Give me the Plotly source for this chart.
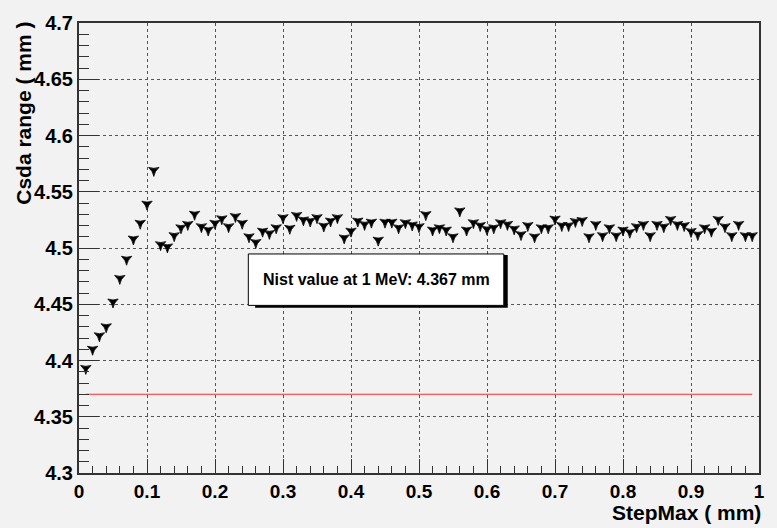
import plotly.graph_objects as go

step_max = [round(0.01 * i, 2) for i in range(1, 100)]
csda_range = [
    4.393, 4.410, 4.422, 4.430, 4.452, 4.473, 4.490, 4.508, 4.522, 4.539,
    4.569, 4.503, 4.501, 4.511, 4.518, 4.521, 4.530, 4.519, 4.516, 4.522,
    4.526, 4.519, 4.528, 4.522, 4.510, 4.505, 4.515, 4.513, 4.518, 4.527,
    4.5175, 4.529, 4.525, 4.524, 4.527, 4.5196, 4.524, 4.527, 4.509, 4.515,
    4.524, 4.521, 4.523, 4.507, 4.523, 4.523, 4.518, 4.5225, 4.5205, 4.519,
    4.5297, 4.516, 4.518, 4.516, 4.510, 4.533, 4.516, 4.5225, 4.520, 4.5167,
    4.518, 4.5225, 4.521, 4.517, 4.512, 4.520, 4.510, 4.518, 4.518, 4.5257,
    4.520, 4.520, 4.5236, 4.5245, 4.510, 4.521, 4.511, 4.518, 4.511, 4.516,
    4.514, 4.519, 4.521, 4.511, 4.521, 4.519, 4.5254, 4.521, 4.520, 4.5147,
    4.512, 4.518, 4.515, 4.5254, 4.519, 4.511, 4.521, 4.511, 4.511,
]
nist_line_x = [0.01, 0.99]
nist_line_y = [4.37, 4.37]
nist_label = "Nist value at 1 MeV: 4.367 mm"
x_ticks = [0, 0.1, 0.2, 0.3, 0.4, 0.5, 0.6, 0.7, 0.8, 0.9, 1]
x_tick_text = ["0", "0.1", "0.2", "0.3", "0.4", "0.5", "0.6", "0.7", "0.8", "0.9", "1"]
y_ticks = [4.3, 4.35, 4.4, 4.45, 4.5, 4.55, 4.6, 4.65, 4.7]
y_tick_text = ["4.3", "4.35", "4.4", "4.45", "4.5", "4.55", "4.6", "4.65", "4.7"]

BG = "#f2f2f2"
AX = "#333333"
FONT = "Liberation Sans, Arial, Helvetica, sans-serif"

fig = go.Figure()
fig.add_trace(go.Scatter(
    x=nist_line_x, y=nist_line_y, mode="lines",
    line=dict(color="#ff2a2a", width=1.2), showlegend=False, hoverinfo="skip"))
fig.add_trace(go.Scatter(
    x=step_max, y=csda_range, mode="markers",
    marker=dict(symbol="star-triangle-down", size=7.5, color="black",
                line=dict(color="black", width=0.8)),
    showlegend=False))

# text box with drop shadow
bx0, bx1, by0, by1 = 0.249, 0.6247, 4.449, 4.4947
sx, sy = 0.0058, 0.0022
fig.add_shape(type="rect", xref="x", yref="y", x0=bx0 + 0.01, x1=bx1 + sx,
              y0=by0 - sy, y1=by1 - 0.001, fillcolor="black", line=dict(width=0), layer="above")
fig.add_shape(type="rect", xref="x", yref="y", x0=bx0, x1=bx1, y0=by0, y1=by1,
              fillcolor="white", line=dict(color="black", width=1), layer="above")
fig.add_annotation(x=(bx0 + bx1) / 2, y=(by0 + by1) / 2, xref="x", yref="y",
                   text=nist_label, showarrow=False,
                   font=dict(family=FONT, size=16, color="black", weight="bold"))

# axis titles
fig.add_annotation(x=1.0, y=-0.084, xref="paper", yref="paper", xanchor="right",
                   yanchor="middle", xshift=4, yshift=-2, text="StepMax ( mm)", showarrow=False,
                   font=dict(family=FONT, size=21, color="black", weight="bold"))
fig.add_annotation(x=-0.079, y=1.0, xref="paper", yref="paper", xanchor="center",
                   yanchor="top", xshift=-2, yshift=3, text="Csda range ( mm )", textangle=-90,
                   showarrow=False,
                   font=dict(family=FONT, size=21, color="black", weight="bold"))

fig.update_xaxes(
    range=[0, 1], tickvals=x_ticks, ticktext=x_tick_text,
    ticks="inside", ticklen=14, tickcolor=AX, tickwidth=1,
    minor=dict(ticks="inside", ticklen=7, dtick=0.02, tickcolor=AX, showgrid=False),
    showgrid=True, gridcolor="#555555", griddash="dot", gridwidth=1,
    showline=True, linecolor=AX, linewidth=2, mirror=True, zeroline=False,
    tickfont=dict(family=FONT, size=19, color="black", weight="bold"))
fig.update_yaxes(
    range=[4.3, 4.7], tickvals=y_ticks, ticktext=y_tick_text,
    ticks="inside", ticklen=20, tickcolor=AX, tickwidth=1,
    minor=dict(ticks="inside", ticklen=10, dtick=0.01, tickcolor=AX, showgrid=False),
    showgrid=True, gridcolor="#555555", griddash="dot", gridwidth=1,
    showline=True, linecolor=AX, linewidth=2, mirror=True, zeroline=False,
    tickfont=dict(family=FONT, size=20, color="black", weight="bold"))

fig.update_layout(
    width=777, height=528,
    margin=dict(l=79, r=16, t=12, b=55),
    paper_bgcolor=BG, plot_bgcolor=BG,
    showlegend=False)

fig.write_html("out.html")
